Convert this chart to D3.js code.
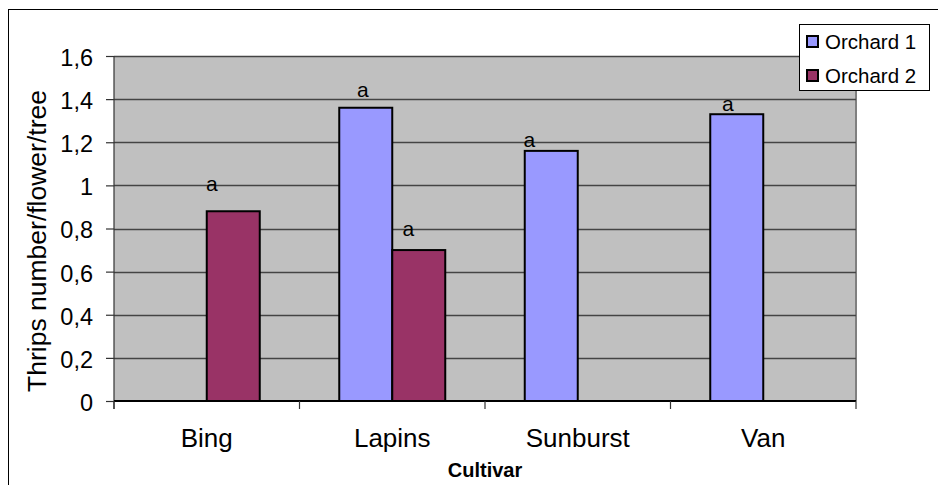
<!DOCTYPE html>
<html>
<head>
<meta charset="utf-8">
<script src="https://cdn.jsdelivr.net/npm/d3@7/dist/d3.min.js"></script>
<style>
  html, body { margin: 0; padding: 0; background: #fff; }
  svg { display: block; font-family: "Liberation Sans", Arial, sans-serif; }
</style>
</head>
<body>
<svg id="chart" width="938" height="485"></svg>
<script>
const categories = ["Bing", "Lapins", "Sunburst", "Van"];
const seriesNames = ["Orchard 1", "Orchard 2"];
const orchard1 = [null, 1.36, 1.16, 1.33];
const orchard2 = [0.88, 0.70, null, null];
const yTicks = [0, 0.2, 0.4, 0.6, 0.8, 1.0, 1.2, 1.4, 1.6];
const letterLabels = [
  { category: "Bing", series: "Orchard 2", text: "a" },
  { category: "Lapins", series: "Orchard 1", text: "a" },
  { category: "Lapins", series: "Orchard 2", text: "a" },
  { category: "Sunburst", series: "Orchard 1", text: "a" },
  { category: "Van", series: "Orchard 1", text: "a" }
];
const yTitle = "Thrips number/flower/tree";
const xTitle = "Cultivar";

// label nudges (layout only)
const nudges = [[-21.5, 20.5], [-3, 11], [-10.5, 14.5], [-22, 4.2], [-9, 3.2]];

const colors = { "Orchard 1": "#9999FF", "Orchard 2": "#993366" };
const svg = d3.select("#chart");
const plot = { left: 114, right: 856, top: 56, bottom: 401 };

// outer border
svg.append("rect").attr("x", 8.5).attr("y", 9.5).attr("width", 1000).attr("height", 1000)
  .attr("fill", "none").attr("stroke", "#000").attr("stroke-width", 1);

const x0 = d3.scaleBand().domain(categories).range([plot.left, plot.right]).padding(0);
const x1 = d3.scaleBand().domain(seriesNames).range([0, x0.bandwidth()]).paddingInner(0).paddingOuter(0.75);
const y = d3.scaleLinear().domain([0, 1.6]).range([plot.bottom, plot.top]);
const loc = d3.formatLocale({ decimal: ",", thousands: ".", grouping: [3], currency: ["", ""] });
const fmt = loc.format("~g");

// plot area
svg.append("rect").attr("x", plot.left).attr("y", plot.top)
  .attr("width", plot.right - plot.left).attr("height", plot.bottom - plot.top)
  .attr("fill", "#C0C0C0");
// right border
svg.append("line").attr("x1", plot.right).attr("x2", plot.right).attr("y1", plot.top).attr("y2", plot.bottom)
  .attr("stroke", "#808080").attr("stroke-width", 2);

// gridlines
svg.append("g").selectAll("line").data(yTicks.filter(d => d > 0)).join("line")
  .attr("x1", plot.left).attr("x2", plot.right)
  .attr("y1", d => Math.round(y(d)) + 0.5).attr("y2", d => Math.round(y(d)) + 0.5)
  .attr("stroke", "#444").attr("stroke-width", 1.4);

// y axis
const yAxis = d3.axisLeft(y).tickValues(yTicks).tickFormat(fmt).tickSize(8).tickPadding(13);
const gy = svg.append("g").attr("transform", `translate(${plot.left},0)`).call(yAxis);
gy.select(".domain").attr("stroke", "#333").attr("stroke-width", 1.2).attr("d", `M0,${plot.top}V${plot.bottom + 8}`);
gy.selectAll(".tick line").attr("stroke", "#333").attr("stroke-width", 1.2);
gy.selectAll(".tick text").attr("font-size", 23.5).attr("fill", "#000").attr("dy", "0.4em")
  .attr("font-family", "Liberation Sans, Arial, sans-serif");

// bars
const barData = [];
categories.forEach((c, i) => {
  [orchard1[i], orchard2[i]].forEach((v, j) => {
    if (v != null) barData.push({ category: c, series: seriesNames[j], value: v });
  });
});
svg.append("g").selectAll("rect").data(barData).join("rect")
  .attr("x", d => x0(d.category) + x1(d.series))
  .attr("y", d => y(d.value))
  .attr("width", x1.bandwidth())
  .attr("height", d => y(0) - y(d.value))
  .attr("fill", d => colors[d.series])
  .attr("stroke", "#000").attr("stroke-width", 2);

// x axis
const xAxisLine = svg.append("g");
xAxisLine.append("line").attr("x1", plot.left).attr("x2", plot.right)
  .attr("y1", plot.bottom).attr("y2", plot.bottom).attr("stroke", "#000").attr("stroke-width", 2);
const boundaries = categories.map(c => x0(c)).concat([plot.right]);
xAxisLine.selectAll("line.tk").data(boundaries).join("line").attr("class", "tk")
  .attr("x1", d => d).attr("x2", d => d).attr("y1", plot.bottom).attr("y2", plot.bottom + 8)
  .attr("stroke", "#333").attr("stroke-width", 1.2);
svg.append("g").selectAll("text").data(categories).join("text")
  .attr("x", d => x0(d) + x0.bandwidth() / 2).attr("y", 447)
  .attr("text-anchor", "middle").attr("font-size", 26).text(d => d);

// letters
svg.append("g").selectAll("text").data(letterLabels).join("text")
  .attr("x", (d, i) => x0(d.category) + x1(d.series) + x1.bandwidth() / 2 + nudges[i][0])
  .attr("y", (d, i) => {
    const idx = categories.indexOf(d.category);
    const v = d.series === "Orchard 1" ? orchard1[idx] : orchard2[idx];
    return y(v) - nudges[i][1];
  })
  .attr("text-anchor", "middle").attr("font-size", 21).text(d => d.text);

// titles
svg.append("text").attr("transform", `translate(46,241) rotate(-90)`)
  .attr("text-anchor", "middle").attr("font-size", 26.5).text(yTitle);
svg.append("text").attr("x", (plot.left + plot.right) / 2).attr("y", 477)
  .attr("text-anchor", "middle").attr("font-size", 20).attr("font-weight", "bold").text(xTitle);

// legend
const lg = svg.append("g");
lg.append("rect").attr("x", 799.5).attr("y", 24.5).attr("width", 130).attr("height", 66)
  .attr("fill", "#fff").attr("stroke", "#000").attr("stroke-width", 1);
seriesNames.forEach((s, i) => {
  lg.append("rect").attr("x", 807).attr("y", 36 + i * 34).attr("width", 11).attr("height", 11)
    .attr("fill", colors[s]).attr("stroke", "#000").attr("stroke-width", 2);
  lg.append("text").attr("x", 825).attr("y", 48.5 + i * 34).attr("font-size", 20.5).text(s);
});
</script>
</body>
</html>
